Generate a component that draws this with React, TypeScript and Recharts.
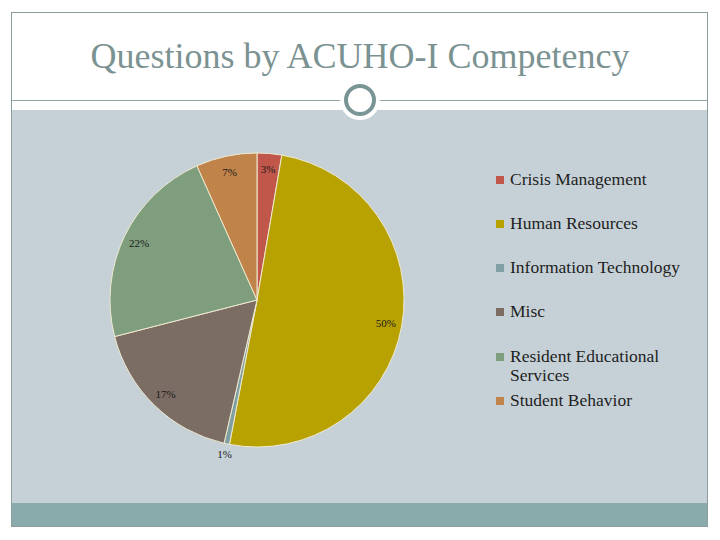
import React from 'react';
import { PieChart, Pie, Cell, Legend } from 'recharts';

const categories = [
  'Crisis Management',
  'Human Resources',
  'Information Technology',
  'Misc',
  'Resident Educational Services',
  'Student Behavior',
];
const shares = [2.7, 50.3, 0.6, 17.4, 22.3, 6.7];
const colors = ['#c0574a', '#b8a202', '#809fa2', '#7b6d63', '#7f9e7d', '#c0834a'];
const legendTops = [180, 224, 268, 312, 357, 401];

const data = categories.map((name, i) => ({ name, value: shares[i] }));

const RAD = Math.PI / 180;

const renderLabel = (props: any) => {
  const { cx, cy, midAngle, outerRadius, percent } = props;
  const small = percent < 0.01;
  const r = small ? outerRadius + 10 : outerRadius - 16;
  const x = cx + r * Math.cos(-midAngle * RAD);
  const y = cy + r * Math.sin(-midAngle * RAD);
  return (
    <text
      x={x}
      y={y}
      fill="#1a1a1a"
      fontSize={11}
      fontFamily="Liberation Serif, serif"
      textAnchor="middle"
      dominantBaseline="central"
    >
      {`${Math.round(percent * 100)}%`}
    </text>
  );
};

const LegendContent = () => (
  <div style={{ position: 'relative', width: 220, height: 260 }}>
    {categories.map((c, i) => (
      <div
        key={c}
        style={{
          position: 'absolute',
          left: 0,
          top: legendTops[i] - 160 - 10,
          display: 'flex',
          alignItems: 'flex-start',
          fontFamily: 'Liberation Serif, serif',
          fontSize: 17.5,
          lineHeight: '19px',
          color: '#1e1e1e',
          width: 210,
        }}
      >
        <span
          style={{
            display: 'inline-block',
            width: 8,
            height: 8,
            background: colors[i],
            marginTop: 6,
            marginRight: 6,
            flex: 'none',
          }}
        />
        <span style={{ width: 180 }}>{c}</span>
      </div>
    ))}
  </div>
);

export default function App() {
  return (
    <div
      style={{
        position: 'absolute',
        left: 0,
        top: 0,
        width: 720,
        height: 540,
        background: '#ffffff',
        overflow: 'hidden',
      }}
    >
      {/* frame */}
      <div
        style={{
          position: 'absolute',
          left: 11,
          top: 12,
          width: 697,
          height: 515,
          border: '1px solid #8a9ea0',
          boxSizing: 'border-box',
        }}
      />
      {/* grey panel */}
      <div style={{ position: 'absolute', left: 12, top: 110, width: 695, height: 393, background: '#c6d1d7' }} />
      {/* teal band */}
      <div style={{ position: 'absolute', left: 12, top: 503, width: 695, height: 23, background: '#8aabab' }} />
      {/* line */}
      <div style={{ position: 'absolute', left: 12, top: 100, width: 695, height: 1, background: '#8fa3a3' }} />
      {/* circle decoration */}
      <div
        style={{
          position: 'absolute',
          left: 340,
          top: 80,
          width: 40,
          height: 40,
          borderRadius: '50%',
          background: '#ffffff',
        }}
      />
      <div
        style={{
          position: 'absolute',
          left: 344,
          top: 84,
          width: 32,
          height: 32,
          borderRadius: '50%',
          border: '4px solid #7a9595',
          boxSizing: 'border-box',
        }}
      />
      {/* title */}
      <div
        style={{
          position: 'absolute',
          left: 0,
          top: 34,
          width: 720,
          textAlign: 'center',
          fontFamily: 'Liberation Serif, serif',
          fontSize: 36,
          lineHeight: '44px',
          color: '#7b9292',
        }}
      >
        Questions by ACUHO-I Competency
      </div>
      <div style={{ position: 'absolute', left: 0, top: 0 }}>
        <PieChart width={720} height={540} margin={{ top: 0, right: 0, bottom: 0, left: 0 }}>
          <Pie
            data={data}
            dataKey="value"
            nameKey="name"
            cx={257}
            cy={300}
            outerRadius={147}
            startAngle={90}
            endAngle={-270}
            stroke="#efe9cf"
            strokeWidth={1}
            label={renderLabel}
            labelLine={false}
            isAnimationActive={false}
          >
            {data.map((d, i) => (
              <Cell key={d.name} fill={colors[i]} />
            ))}
          </Pie>
          <Legend
            content={<LegendContent />}
            wrapperStyle={{ position: 'absolute', left: 496, top: 160, width: 220, height: 260 }}
          />
        </PieChart>
      </div>
    </div>
  );
}
